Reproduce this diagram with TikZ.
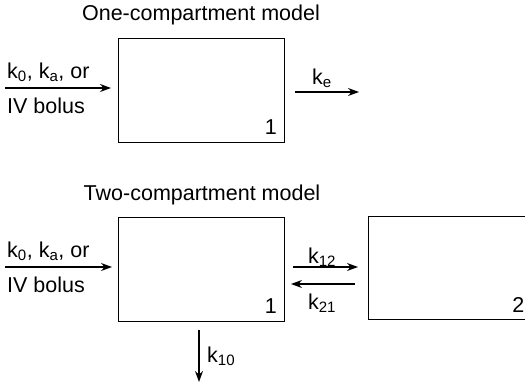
\documentclass[tikz,border=0pt]{standalone}
\usepackage{fontspec}
\setmainfont{Liberation Sans}
\usetikzlibrary{arrows.meta}
\tikzset{
  comp/.style={draw, line width=1.2pt, minimum width=166pt, minimum height=104pt, inner sep=0pt, anchor=north west},
  lbl/.style={font=\fontsize{21.5}{24}\selectfont, inner sep=0pt},
  flow/.style={line width=1.1pt, -{Stealth[length=11pt,width=8pt]}}
}
\begin{document}
\begin{tikzpicture}[x=1pt,y=-1pt]
\useasboundingbox (0,0) rectangle (525,382);
% One-compartment
\node[lbl] (t1) at (201,15) {One-compartment model};
\node[comp] (b1) at (118,38) {};
\node[lbl, anchor=south east] (n1) at (277,135) {1};
\node[lbl, anchor=west] (in1a) at (7,72) {k\textsubscript{0}, k\textsubscript{a}, or};
\node[lbl, anchor=west] (in1b) at (7,106) {IV bolus};
\coordinate (s1) at (5,88);
\coordinate (e1) at (111,88);
\draw[flow] (s1) -- (e1);
\coordinate (o1s) at (295,92);
\coordinate (o1e) at (359,92);
\draw[flow] (o1s) -- (o1e);
\node[lbl] (ke) at (322,78) {k\textsubscript{e}};
% Two-compartment
\node[lbl] (t2) at (202,195) {Two-compartment model};
\node[comp] (b2) at (118,217) {};
\node[lbl, anchor=south east] (n2) at (277,314) {1};
\node[comp, minimum width=170pt, minimum height=103pt] (b3) at (368,216) {};
\node[lbl, anchor=south east] (n3) at (524.5,313) {2};
\node[lbl, anchor=west] (in2a) at (7,251) {k\textsubscript{0}, k\textsubscript{a}, or};
\node[lbl, anchor=west] (in2b) at (7,285) {IV bolus};
\coordinate (s2) at (5,267);
\coordinate (e2) at (112,267);
\draw[flow] (s2) -- (e2);
\coordinate (a12s) at (293,267);
\coordinate (a12e) at (358,267);
\draw[flow] (a12s) -- (a12e);
\coordinate (a21s) at (355,284);
\coordinate (a21e) at (291,284);
\draw[flow] (a21s) -- (a21e);
\node[lbl] (k12) at (322,257) {k\textsubscript{12}};
\node[lbl] (k21) at (322,303) {k\textsubscript{21}};
\coordinate (d1) at (199,330);
\coordinate (d2) at (199,382);
\draw[flow] (d1) -- (d2);
\node[lbl, anchor=west] (k10) at (207,356) {k\textsubscript{10}};
\end{tikzpicture}
\end{document}
